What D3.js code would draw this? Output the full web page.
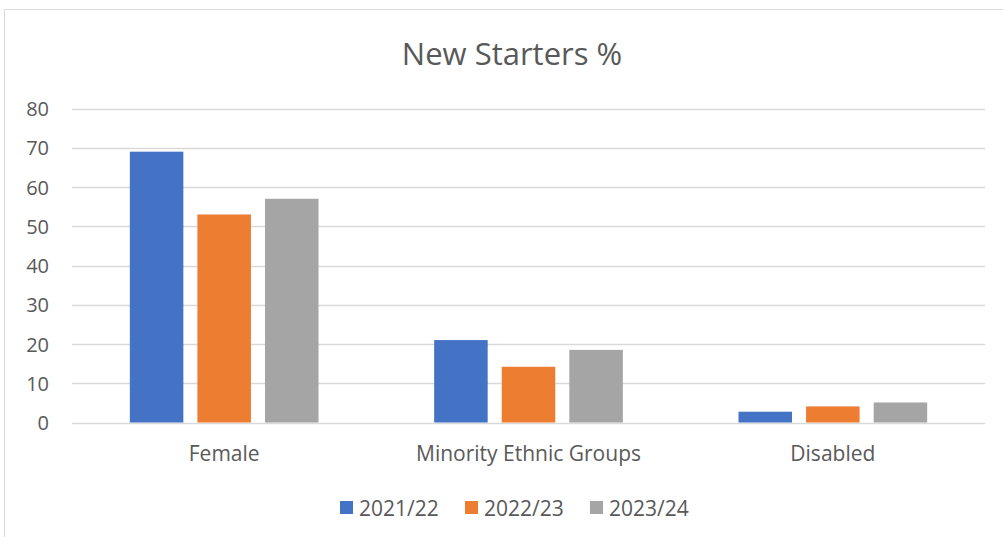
<!DOCTYPE html>
<html>
<head>
<meta charset="utf-8">
<script src="https://cdn.jsdelivr.net/npm/d3@7"></script>
<style>
  html, body { margin: 0; padding: 0; background: #fff; }
  svg { display: block; }
  text { font-family: "Open Sans", sans-serif; fill: #595959; }
</style>
</head>
<body>
<svg id="chart" width="1003" height="537"></svg>
<script>
const categories = ["Female", "Minority Ethnic Groups", "Disabled"];
const seriesNames = ["2021/22", "2022/23", "2023/24"];
const values2021 = [69, 21, 2.75];
const values2022 = [53, 14.2, 4.1];
const values2023 = [57, 18.5, 5.1];
const seriesColors = ["#4472C4", "#ED7D31", "#A5A5A5"];
const yTicks = [0, 10, 20, 30, 40, 50, 60, 70, 80];
const title = "New Starters %";

const seriesValues = [values2021, values2022, values2023];
const svg = d3.select("#chart");
const FONT = "'Open Sans', sans-serif";

// frame
svg.append("path")
  .attr("d", "M4.5,537 L4.5,9.5 L1003,9.5")
  .attr("fill", "none").attr("stroke", "#d9d9d9").attr("stroke-width", 1);

const plotLeft = 72, plotRight = 985, plotTop = 108.5, plotBottom = 422.5;

const y = d3.scaleLinear().domain([0, 80]).range([plotBottom, plotTop]);
const x0 = d3.scaleBand().domain(categories).range([plotLeft, plotRight]).padding(0);
const groupWidth = x0.bandwidth() * 0.62;
const x1 = d3.scaleBand().domain(seriesNames).range([0, groupWidth]).paddingInner(0.208).paddingOuter(0);

// gridlines
const grid = svg.append("g");
grid.selectAll("line").data(yTicks).join("line")
  .attr("x1", plotLeft).attr("x2", plotRight)
  .attr("y1", d => Math.round(y(d)) + 0.5).attr("y2", d => Math.round(y(d)) + 0.5)
  .attr("stroke", "#d9d9d9").attr("stroke-width", 1.3);

// y axis labels
const yAxis = d3.axisLeft(y).tickValues(yTicks).tickSize(0).tickPadding(0);
const ya = svg.append("g").attr("transform", `translate(49,0)`).call(yAxis);
ya.select(".domain").remove();
ya.selectAll("text").attr("font-size", 20).attr("fill", "#595959").attr("dy", "0.36em")
  .style("font-family", FONT);

// bars
const groups = svg.append("g").selectAll("g").data(categories).join("g")
  .attr("transform", c => `translate(${x0(c) + (x0.bandwidth() - groupWidth) / 2},0)`);
groups.selectAll("rect").data((c, i) => seriesNames.map((s, j) => ({s, j, v: seriesValues[j][i]})))
  .join("rect")
  .attr("x", d => x1(d.s))
  .attr("width", x1.bandwidth())
  .attr("y", d => y(d.v))
  .attr("height", d => y(0) - y(d.v))
  .attr("fill", d => seriesColors[d.j]);

// x axis labels
const xAxis = d3.axisBottom(x0).tickSize(0).tickPadding(0);
const xa = svg.append("g").attr("transform", `translate(0,461)`).call(xAxis);
xa.select(".domain").remove();
xa.selectAll("text").attr("font-size", 21).attr("fill", "#595959").attr("dy", 0)
  .style("font-family", FONT);

// title
svg.append("text").attr("x", 512).attr("y", 65).attr("text-anchor", "middle")
  .attr("font-size", 31).attr("fill", "#595959").text(title);

// legend
const legendX = [340, 465, 590];
const lg = svg.append("g").selectAll("g").data(seriesNames).join("g")
  .attr("transform", (d, i) => `translate(${legendX[i]},0)`);
lg.append("rect").attr("x", 0).attr("y", 501).attr("width", 13).attr("height", 13)
  .attr("fill", (d, i) => seriesColors[i]);
lg.append("text").attr("x", 19).attr("y", 515.5).attr("font-size", 21).text(d => d);
</script>
</body>
</html>
